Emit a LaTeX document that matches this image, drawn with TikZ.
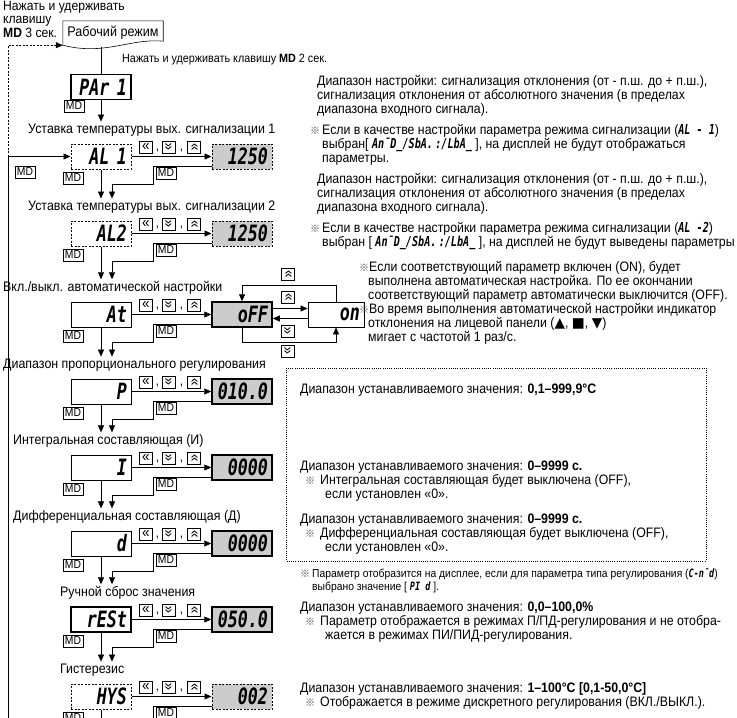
\documentclass[tikz,border=0pt]{standalone}
\usepackage{fontspec}
\usepackage{graphicx}
\setmainfont{Liberation Sans}[FakeStretch=0.9]
\newfontfamily\segfont{DejaVu Sans Mono}[FakeStretch=0.74]
\newfontfamily\symfont{DejaVu Sans}
\newfontfamily\cjk{Noto Sans CJK SC}
\usetikzlibrary{arrows.meta,positioning}
\definecolor{boxgray}{gray}{0.8}
\newcommand\kL{«}
\newcommand\kD{\rotatebox{90}{«}}
\newcommand\kU{\rotatebox{-90}{«}}
\newcommand\note{{\cjk\fontsize{10}{10}\selectfont\color{black!70}※}}
\newcommand\seg[1]{{\segfont\bfseries\itshape #1}}
\tikzset{
  lbl/.style={inner sep=2pt, font=\fontsize{13.8}{14}\selectfont},
  txt/.style={anchor=north west, inner sep=0pt, align=left, font=\fontsize{13.7}{14}\selectfont},
  disp/.style={minimum width=60pt, minimum height=25pt, text width=52pt, align=right,
    inner sep=0pt, font=\segfont\bfseries\itshape\fontsize{22.5}{22.5}\selectfont},
  pthick/.style={disp, draw, line width=1.5pt},
  pthin/.style={disp, draw, line width=0.8pt},
  pdash/.style={disp, draw, line width=1pt, dash pattern=on 2pt off 1.5pt},
  vthick/.style={pthick, fill=boxgray},
  vdash/.style={pdash, fill=boxgray},
  key/.style={draw, line width=0.5pt, inner sep=0pt, minimum width=13pt, minimum height=12pt,
    font=\fontsize{15}{15}\selectfont},
  mdkey/.style={draw, line width=0.5pt, inner sep=1pt, minimum width=20pt, minimum height=12pt,
    font=\fontsize{11.5}{11.5}\selectfont},
  comma/.style={inner sep=0pt, font=\fontsize{13}{13}\selectfont},
  link/.style={line width=0.6pt},
  arr/.style={link, -{Triangle[length=7pt, width=6pt]}},
  dline/.style={link, dash pattern=on 2pt off 1.5pt},
  dotbox/.style={line width=0.8pt, dash pattern=on 0.8pt off 1.4pt}
}
% one parameter row: name, box top, label x, label, display, style, value, style
\newcommand\prow[8]{%
  \node[lbl, anchor=west] (#1-lbl) at (#3-2,#2-14) {#4};
  \node[#6] (#1) at (101,#2+12.5) {#5};
  \node[#8] (#1-val) at (242,#2+12.5) {#7};
  \node[key] (#1-k1) at (146,#2+3) {\kL};
  \node[comma] (#1-c1) at (157.5,#2+7) {,};
  \node[key] (#1-k2) at (169,#2+3) {\kD};
  \node[comma] (#1-c2) at (181.5,#2+7) {,};
  \node[key] (#1-k3) at (194,#2+3) {\kU};
  \node[mdkey] (#1-mdl) at (73,#2+34) {MD};
  \node[mdkey] (#1-mdr) at (166,#2+29) {MD};
  \draw[arr] (#1) -- (#1-val);
}

\begin{document}
\begin{tikzpicture}[x=1pt, y=-1pt]
    \useasboundingbox (0,0) rectangle (737,718);
    % start
    \node[anchor=north west, align=left, inner sep=0pt, font=\fontsize{13.5}{13.5}\selectfont]
        (hold3) at (3,1) {Нажать и удерживать\\клавишу\\\textbf{MD} 3 сек.};
    \node[inner sep=0pt, minimum width=100pt, minimum height=24pt, font=\fontsize{14}{14}\selectfont]
        (run) at (113,33) {Рабочий режим};
    \draw[link] (run.south west) -- (run.north west) -- (run.north east)
        -- ([yshift=4pt]run.south east) .. controls (130,38) and (105,56) .. (run.south west);
    \node[lbl, anchor=west, font=\fontsize{12}{14}\selectfont] (hold2) at (120,60)
        {Нажать и удерживать клавишу \textbf{MD} 2 сек.};
    \node[pthick] (par) at (101,87) {PAr 1};
    \node[mdkey] (par-md) at (74,106) {MD};
    \draw[link] ([yshift=-2pt]par |- run.south) -- (par);

    % parameter rows
    \prow{al1}{144}{28}{Уставка температуры вых. сигнализации 1}{AL 1}{pdash}{1250}{vdash}
    \prow{al2}{221}{28}{Уставка температуры вых. сигнализации 2}{AL2}{pdash}{1250}{vdash}
    \prow{atun}{302}{3}{Вкл./выкл. автоматической настройки}{At}{pthin}{oFF}{vthick}
    \prow{prop}{379}{3}{Диапазон пропорционального регулирования}{P}{pthin}{010.0}{vthick}
    \prow{integ}{455}{13}{Интегральная составляющая (И)}{I}{pthin}{0000}{vthick}
    \prow{diff}{531}{13}{Дифференциальная составляющая (Д)}{d}{pthin}{0000}{vthick}
    \prow{rest}{607}{60}{Ручной сброс значения}{rESt}{pthick}{050.0}{vthick}
    \prow{hys}{684}{60}{Гистерезис}{HYS}{pdash}{002}{vdash}

    \coordinate (rx) at (112,0);
    \coordinate (bot) at (0,730);
    \coordinate (loopb) at (8,730);
    \draw[arr] (par) -- (al1-lbl.north -| par);
    \foreach \a/\b in {al1/al2,al2/atun,atun/prop,prop/integ,integ/diff,diff/rest,rest/hys}{
        \draw[arr] (\a) -- (\b-lbl.north -| \a);
        \draw[arr] ([yshift=3pt]\a-val.south west) -| ++(-58,18) -| (\b-lbl.north -| rx);
    }
    \draw[link] (hys) -- (hys |- bot);
    \draw[link] ([yshift=3pt]hys-val.south west) -| ++(-58,30);

    % loop back
    \draw[arr] (loopb) |- (al1);
    \node[mdkey] (loop-md) at (25,172) {MD};
    \draw[dline, arr] (al1 -| loopb) |- (run.south west);

    % auto tuning on / off
    \node[pthin, minimum width=56pt, text width=48pt] (on) at (336,314.5) {on};
    \node[key] (up1) at (288,274) {\kU};
    \node[key] (up2) at (288,297) {\kU};
    \node[key] (dn1) at (288,331) {\kD};
    \node[key] (dn2) at (288,351) {\kD};
    \coordinate (atop) at (0,285);
    \coordinate (abot) at (0,342);
    \draw[arr] (on) |- (atun-val |- atop) -- (atun-val);
    \draw[arr] ([yshift=6pt]atun-val.east) -- ([yshift=6pt]atun-val.east -| on.west);
    \draw[arr] ([yshift=-4pt]on.west) -- ([yshift=-4pt]on.west -| atun-val.east);
    \draw[arr] (atun-val) |- (on |- abot) -- (on);

    % notes
    \node[txt] (t-al1) at (317,75) {Диапазон настройки: сигнализация отклонения (от - п.ш. до + п.ш.),\\
        сигнализация отклонения от абсолютного значения (в пределах\\диапазона входного сигнала).};
    \node[txt] (n-al1) at (310,124) {\note\hspace{2pt}Если в качестве настройки параметра режима сигнализации (\seg{AL - 1})\\
        \hspace*{12pt}выбран[ \seg{A\={n}D\_/SbA.\,:/LbA\_} ], на дисплей не будут отображаться\\
        \hspace*{12pt}параметры.};
    \node[txt] (t-al2) at (317,173) {Диапазон настройки: сигнализация отклонения (от - п.ш. до + п.ш.),\\
        сигнализация отклонения от абсолютного значения (в пределах\\диапазона входного сигнала).};
    \node[txt] (n-al2) at (310,222) {\note\hspace{2pt}Если в качестве настройки параметра режима сигнализации (\seg{AL -2})\\
        \hspace*{12pt}выбран [ \seg{A\={n}D\_/SbA.\,:/LbA\_} ], на дисплей не будут выведены параметры};
    \node[txt] (n-at) at (359,261) {\note\hspace{0pt}Если соответствующий параметр включен (ON), будет\\
        \hspace*{9pt}выполнена автоматическая настройка. По ее окончании\\
        \hspace*{9pt}соответствующий параметр автоматически выключится (OFF).\\
        \note\hspace{0pt}Во время выполнения автоматической настройки индикатор\\
        \hspace*{9pt}отклонения на лицевой панели ({\symfont▲}, {\symfont■}, {\symfont▼})\\
        \hspace*{9pt}мигает с частотой 1 раз/с.};

    \draw[dotbox] (286,368) rectangle (706,561);
    \node[txt] (t-prop) at (300,384) {Диапазон устанавливаемого значения: \textbf{0,1–999,9°C}};
    \node[txt] (t-integ) at (300,461) {Диапазон устанавливаемого значения: \textbf{0–9999 с.}\\
        \hspace*{5pt}\note\hspace{5pt}Интегральная составляющая будет выключена (OFF),\\
        \hspace*{25pt}если установлен «0».};
    \node[txt] (t-diff) at (300,514) {Диапазон устанавливаемого значения: \textbf{0–9999 с.}\\
        \hspace*{5pt}\note\hspace{5pt}Дифференциальная составляющая будет выключена (OFF),\\
        \hspace*{25pt}если установлен «0».};
    \node[txt, font=\fontsize{11.5}{13}\selectfont] (n-pid) at (300,569)
        {\note\hspace{2pt}Параметр отобразится на дисплее, если для параметра типа регулирования (\seg{C-\={n}d})\\
        \hspace*{12pt}выбрано значение [ \seg{PI d} ].};
    \node[txt] (t-rest) at (300,602) {Диапазон устанавливаемого значения: \textbf{0,0–100,0\%}\\
        \hspace*{5pt}\note\hspace{5pt}Параметр отображается в режимах П/ПД-регулирования и не отобра-\\
        \hspace*{25pt}жается в режимах ПИ/ПИД-регулирования.};
    \node[txt] (t-hys) at (300,682) {Диапазон устанавливаемого значения: \textbf{1–100°C [0,1-50,0°C]}\\
        \hspace*{5pt}\note\hspace{5pt}Отображается в режиме дискретного регулирования (ВКЛ./ВЫКЛ.).};
\end{tikzpicture}
\end{document}
